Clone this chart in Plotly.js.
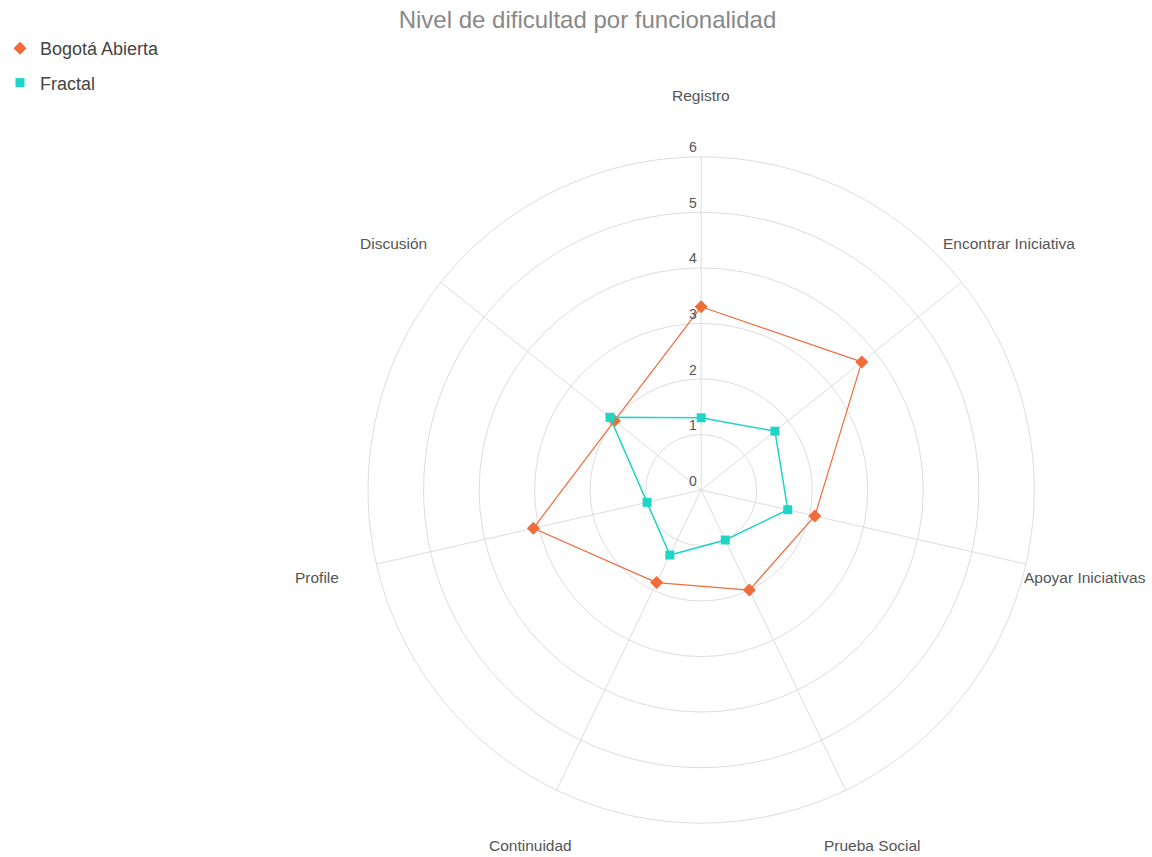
<!DOCTYPE html>
<html>
<head>
<meta charset="utf-8">
<script src="https://cdn.plot.ly/plotly-3.0.1.min.js"></script>
<style>html,body{margin:0;padding:0;background:#fff;}#chart{width:1152px;height:857px;}</style>
</head>
<body>
<div id="chart"></div>
<script>
const categories = ["Registro", "Encontrar Iniciativa", "Apoyar Iniciativas", "Prueba Social", "Continuidad", "Profile", "Discusión"];
const bogotaValues = [3.3, 3.7, 2.1, 2.0, 1.85, 3.1, 2.0];
const fractalValues = [1.3, 1.7, 1.6, 1.0, 1.3, 1.0, 2.1];
const radialTicks = [0, 1, 2, 3, 4, 5, 6];
const radialTickLabels = ["0", "1", "2", "3", "4", "5", "6"];

const closeLoop = arr => arr.concat([arr[0]]);
const orange = "rgb(240,108,58)";
const teal = "rgb(32,212,200)";
const labelFont = "'Liberation Sans', Arial, sans-serif";

const traces = [
  {type: "scatterpolar", r: closeLoop(bogotaValues), theta: closeLoop(categories), mode: "lines",
   line: {color: orange, width: 1.2}, showlegend: false, legendgroup: "b", hoverinfo: "skip"},
  {type: "scatterpolar", r: bogotaValues, theta: categories, mode: "markers", name: "Bogotá Abierta",
   marker: {symbol: "diamond", size: 10, color: orange}, legendgroup: "b"},
  {type: "scatterpolar", r: closeLoop(fractalValues), theta: closeLoop(categories), mode: "lines",
   line: {color: teal, width: 1.5}, showlegend: false, legendgroup: "f", hoverinfo: "skip"},
  {type: "scatterpolar", r: fractalValues, theta: categories, mode: "markers", name: "Fractal",
   marker: {symbol: "square", size: 9, color: teal}, legendgroup: "f"}
];

const W = 1152, H = 857, cx = 700, cy = 490, R = 334, rMax = 6;
const unit = R / rMax;
const labelRadius = 395;

// point labels centred beyond the outer ring (Chart.js-style)
const pointLabelAnn = categories.map((c, i) => {
  const a = i * 2 * Math.PI / categories.length;
  return {text: c, xref: "paper", yref: "paper", showarrow: false,
          x: (cx + labelRadius * Math.sin(a)) / W, y: 1 - (cy - labelRadius * Math.cos(a)) / H,
          xanchor: "center", yanchor: "middle", font: {family: labelFont, size: 15.5, color: "#555"}};
});
// radial tick labels just above each ring, beside the top spoke
const radialLabelAnn = radialTicks.map((v, i) => ({
  text: radialTickLabels[i], xref: "paper", yref: "paper", showarrow: false,
  x: (cx - 8) / W, y: 1 - (cy - v * unit - 9) / H, xanchor: "center", yanchor: "middle",
  font: {family: labelFont, size: 14, color: "#555"}
}));

const layout = {
  width: W, height: H,
  margin: {l: 0, r: 0, t: 0, b: 0},
  paper_bgcolor: "#fff",
  font: {family: labelFont, color: "#444"},
  title: {text: "Nivel de dificultad por funcionalidad", font: {size: 24, color: "#888", family: labelFont},
          x: 586 / W, xanchor: "center", y: 1 - 20 / H, yanchor: "middle", xref: "paper", yref: "container"},
  showlegend: true,
  legend: {x: -0.003, y: 1 - 30 / H, xanchor: "left", yanchor: "top", font: {size: 18, color: "#444", family: labelFont},
           itemclick: false, tracegroupgap: 8},
  annotations: pointLabelAnn.concat(radialLabelAnn),
  polar: {
    domain: {x: [(cx - R) / W, (cx + R) / W], y: [(H - cy - R) / H, (H - cy + R) / H]},
    bgcolor: "#fff",
    radialaxis: {range: [0, rMax], tickvals: radialTicks, showticklabels: false, showline: false, ticks: "",
                 gridcolor: "#ddd", gridwidth: 1, angle: 90},
    angularaxis: {direction: "clockwise", rotation: 90, gridcolor: "#ddd", linecolor: "#ddd", showline: true,
                  showticklabels: false, ticks: ""}
  }
};

Plotly.newPlot("chart", traces, layout, {displayModeBar: false, staticPlot: true});
</script>
</body>
</html>
